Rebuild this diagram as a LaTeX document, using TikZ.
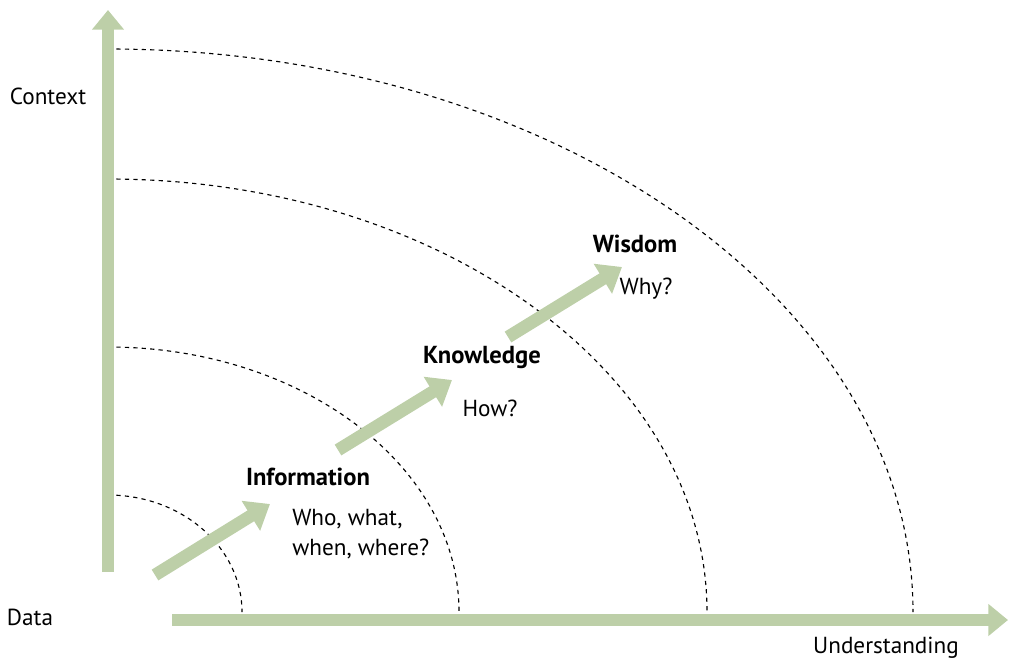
\documentclass[tikz,border=0pt]{standalone}
\usepackage{fontspec}
\setmainfont{PT Sans}
\usetikzlibrary{arrows.meta}
\definecolor{sage}{RGB}{189,207,168}
\begin{document}
\begin{tikzpicture}[x=0.025cm,y=-0.025cm]
	\tikzstyle{Axis} = [draw=sage, line width=9pt, -{Triangle[length=14pt,width=22pt]}]
	\tikzstyle{Step} = [draw=sage, line width=9pt, -{Triangle[length=16pt,width=24pt]}]
	\tikzstyle{Ring} = [draw, dashed, line width=0.8pt]
	\tikzstyle{Label} = [inner sep=0pt, font=\fontsize{16.5}{21}\selectfont]
	\tikzstyle{Title} = [Label, font=\fontsize{17.5}{21}\selectfont\bfseries]
	\useasboundingbox (0,0) rectangle (1024,667);
	\coordinate (O) at (108,612);
	\coordinate (V0) at (108,572);
	\coordinate (V1) at (108,10);
	\coordinate (H0) at (172,620);
	\coordinate (H1) at (1008,620);
	\coordinate (S1a) at (155,575);
	\coordinate (S1b) at (270,504);
	\coordinate (S2a) at (338,450);
	\coordinate (S2b) at (452,380);
	\coordinate (S3a) at (508,337);
	\coordinate (S3b) at (622,267);
	\draw [Ring] (108,495) arc [start angle=90, end angle=0, x radius=134, y radius=-117];
	\draw [Ring] (108,347) arc [start angle=90, end angle=0, x radius=351, y radius=-265];
	\draw [Ring] (108,179) arc [start angle=90, end angle=0, x radius=599, y radius=-433];
	\draw [Ring] (108,49) arc [start angle=90, end angle=0, x radius=805, y radius=-563];
	\draw [Axis] (V0) -- (V1);
	\draw [Axis] (H0) -- (H1);
	\draw [Step] (S1a) -- (S1b);
	\draw [Step] (S2a) -- (S2b);
	\draw [Step] (S3a) -- (S3b);
	\node (context) at (48,96) [Label] {Context};
	\node (data) at (30,617) [Label] {Data};
	\node (under) at (886,648) [Label] {Understanding};
	\node (info) at (308,477) [Title] {Information};
	\node (infoq) at (292,534) [Label, anchor=west, align=left] {Who, what,\\when, where?};
	\node (know) at (482,357) [Title] {Knowledge};
	\node (knowq) at (490,408) [Label] {How?};
	\node (wis) at (635,244) [Title] {Wisdom};
	\node (wisq) at (646,289) [Label] {Why?};
\end{tikzpicture}
\end{document}
